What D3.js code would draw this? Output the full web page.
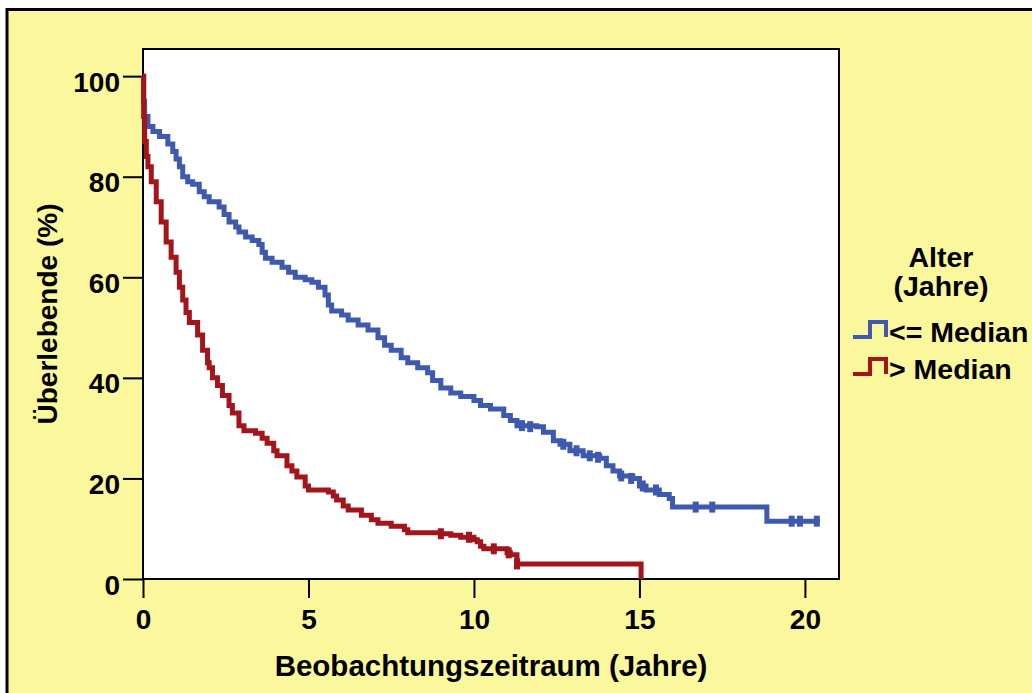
<!DOCTYPE html>
<html>
<head>
<meta charset="utf-8">
<script src="https://cdn.jsdelivr.net/npm/d3@7"></script>
<style>
  html, body { margin: 0; padding: 0; background: #ffffff; }
  text { font-family: "Liberation Sans", Arial, Helvetica, sans-serif; font-weight: bold; fill: #000; }
</style>
</head>
<body>
<svg id="chart" width="1032" height="693"></svg>
<script>
// Kaplan-Meier survival, age groups (years, percent surviving)
const blue_time = [0, 0.02, 0.05, 0.15, 0.3, 0.5, 0.75, 0.9, 1.0, 1.1, 1.2, 1.35, 1.5, 1.7, 1.85, 2.0, 2.3, 2.45, 2.6, 2.8, 2.9, 3.1, 3.3, 3.5, 3.6, 3.7, 3.9, 4.2, 4.4, 4.6, 4.9, 5.1, 5.3, 5.5, 5.6, 5.7, 6.0, 6.2, 6.5, 6.8, 7.1, 7.3, 7.5, 7.8, 8.0, 8.3, 8.6, 8.75, 9.0, 9.3, 9.6, 10.0, 10.2, 10.5, 10.9, 11.1, 11.3, 11.9, 12.1, 12.4, 12.6, 12.9, 13.3, 13.8, 14.0, 14.2, 14.4, 14.8, 15.0, 15.2, 15.6, 15.9, 16.0, 18.85, 20.45]
const blue_surv = [100, 95, 92, 90, 89, 88, 86.5, 85, 83.5, 82, 80, 79, 78.5, 77, 76, 75, 74, 72.5, 71, 70, 69, 68, 67.3, 66.5, 65, 63.8, 63, 62, 61, 60, 59.5, 59, 58, 56.5, 54.5, 53.3, 52.5, 51.5, 50.5, 49.5, 48, 46.5, 45.5, 44, 43, 42, 41, 39.5, 38, 37, 36.3, 35.5, 34.5, 33.8, 32.5, 31.5, 30.5, 30.3, 29.2, 27.5, 26.8, 25.5, 24.5, 24.0, 22.5, 21.5, 20.5, 20.0, 18.5, 17.7, 16.8, 16.0, 14.3, 11.5, 11.5]
const blue_cens_time = [11.45, 11.7, 12.7, 13.1, 13.5, 13.75, 14.45, 14.75, 15.1, 15.5, 16.7, 17.2, 19.6, 19.85, 20.36]
const blue_cens_surv = [30.5, 30.3, 26.8, 25.5, 24.5, 24.2, 20.5, 20.0, 18.5, 17.7, 14.3, 14.3, 11.5, 11.5, 11.5]

const red_time = [0, 0.02, 0.05, 0.1, 0.15, 0.25, 0.4, 0.55, 0.7, 0.85, 1.0, 1.1, 1.2, 1.3, 1.4, 1.65, 1.8, 1.95, 2.0, 2.1, 2.25, 2.4, 2.6, 2.7, 2.9, 3.05, 3.4, 3.6, 3.75, 3.95, 4.05, 4.35, 4.5, 4.65, 4.9, 5.0, 5.6, 5.75, 5.85, 6.05, 6.2, 6.6, 6.9, 7.1, 7.5, 7.9, 8.0, 9.0, 9.3, 9.6, 10.0, 10.1, 10.2, 10.3, 10.8, 11.0, 11.1, 11.3, 15.05, 15.05]
const red_surv = [100, 92, 87, 84, 82, 79, 75, 71, 67, 64, 61, 58, 55.5, 53, 51, 48.5, 45.5, 43, 42, 40, 38.5, 36.5, 34.5, 33, 30.5, 29.5, 29, 28, 27, 25.5, 24.5, 22.5, 21.5, 20.3, 18.5, 17.7, 17.3, 16.5, 15.7, 14.5, 13.7, 12.7, 11.8, 11.1, 10.5, 9.8, 9.2, 9.0, 8.7, 8.3, 7.8, 7.4, 6.5, 6.0, 6.0, 5.2, 4.8, 3.0, 3.0, 0]
const red_cens_time = [9.0, 9.85, 10.6, 11.05, 11.3]
const red_cens_surv = [9.0, 8.3, 6.0, 5.2, 3.0]

const x_ticks = [0, 5, 10, 15, 20]
const y_ticks = [0, 20, 40, 60, 80, 100]
const legend_title = ["Alter", "(Jahre)"]
const legend_labels = ["<= Median", "> Median"]
const colors = ["#3d5aae", "#a3141b"]

const svg = d3.select("#chart")

// yellow panel with black frame (runs off the right and bottom edge)
svg.append("rect")
    .attr("x", 7)
    .attr("y", 9.5)
    .attr("width", 1100)
    .attr("height", 800)
    .attr("fill", "#faf79c")
    .attr("stroke", "#000")
    .attr("stroke-width", 3)

const plot_left = 143, plot_top = 49, plot_right = 839, plot_bottom = 579

const xScale = d3.scaleLinear().domain([0, 21.03]).range([plot_left, plot_right])
const yScale = d3.scaleLinear().domain([0, 105.4]).range([plot_bottom, plot_top])

svg.append("rect")
    .attr("x", plot_left)
    .attr("y", plot_top)
    .attr("width", plot_right - plot_left)
    .attr("height", plot_bottom - plot_top)
    .attr("fill", "#fff")
    .attr("stroke", "#000")
    .attr("stroke-width", 2)

const yAxis = svg.append("g")
    .attr("transform", `translate(${plot_left},0)`)
    .call(d3.axisLeft(yScale).tickValues(y_ticks).tickSize(20).tickPadding(3))
yAxis.select(".domain").remove()
yAxis.selectAll("line").attr("stroke-width", 2)
yAxis.selectAll("text")
    .attr("dy", "0.54em")
    .style("font-size", "28px")
    .style("font-family", "Liberation Sans, Arial, sans-serif")
    .style("font-weight", "bold")

const xAxis = svg.append("g")
    .attr("transform", `translate(0,${plot_bottom})`)
    .call(d3.axisBottom(xScale).tickValues(x_ticks).tickSize(19).tickPadding(11))
xAxis.select(".domain").remove()
xAxis.selectAll("line").attr("stroke-width", 2)
xAxis.selectAll("text")
    .style("font-size", "28px")
    .style("font-family", "Liberation Sans, Arial, sans-serif")
    .style("font-weight", "bold")

const line = d3.line()
    .x(d => xScale(d[0]))
    .y(d => yScale(d[1]))
    .curve(d3.curveStepAfter)

const series = [
    { time: blue_time, surv: blue_surv, ct: blue_cens_time, cs: blue_cens_surv, color: colors[0] },
    { time: red_time, surv: red_surv, ct: red_cens_time, cs: red_cens_surv, color: colors[1] }
]

series.forEach(s => {
    const pts = s.time.map((t, i) => [t, s.surv[i]])
    svg.append("path")
        .datum(pts)
        .attr("d", line)
        .attr("fill", "none")
        .attr("stroke", s.color)
        .attr("stroke-width", 5)
    // censor ticks
    svg.selectAll(null)
        .data(s.ct.map((t, i) => [t, s.cs[i]]))
        .enter()
        .append("rect")
        .attr("x", d => xScale(d[0]) - 3)
        .attr("y", d => yScale(d[1]) - 5.5)
        .attr("width", 6)
        .attr("height", 11)
        .attr("fill", s.color)
})

// axis titles
svg.append("text")
    .attr("x", (plot_left + plot_right) / 2)
    .attr("y", 676)
    .attr("text-anchor", "middle")
    .style("font-size", "29.5px")
    .text("Beobachtungszeitraum (Jahre)")

svg.append("text")
    .attr("transform", `translate(57,${(plot_top + plot_bottom) / 2}) rotate(-90)`)
    .attr("text-anchor", "middle")
    .style("font-size", "28px")
    .text("Überlebende (%)")

// legend
legend_title.forEach((t, i) => {
    svg.append("text")
        .attr("x", 941)
        .attr("y", 267 + i * 29)
        .attr("text-anchor", "middle")
        .style("font-size", "28.5px")
        .text(t)
})

legend_labels.forEach((t, i) => {
    const y0 = 337 + i * 37
    svg.append("path")
        .attr("d", `M853,${y0}H870V${y0 - 15}H886V${y0}`)
        .attr("fill", "none")
        .attr("stroke", colors[i])
        .attr("stroke-width", 4)
    svg.append("text")
        .attr("x", 889)
        .attr("y", 342 + i * 37)
        .style("font-size", "28.5px")
        .text(t)
})
</script>
</body>
</html>
